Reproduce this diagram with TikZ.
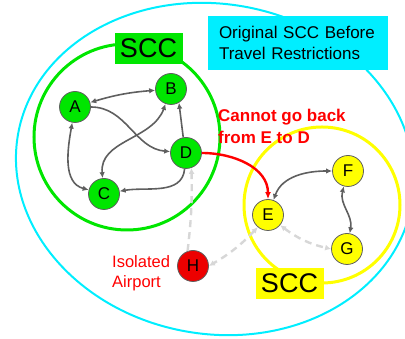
\documentclass[tikz,border=0pt]{standalone}
\usepackage{fontspec}
\setmainfont{Liberation Sans}
\usetikzlibrary{arrows.meta}
\definecolor{sccgreen}{RGB}{0,230,0}
\definecolor{sccyellow}{RGB}{255,255,0}
\definecolor{origcyan}{RGB}{0,238,255}
\definecolor{edgegray}{RGB}{95,95,95}
\definecolor{lostgray}{RGB}{215,215,215}
\definecolor{cutred}{RGB}{255,0,0}
\tikzset{
	airport/.style={circle, draw=edgegray, line width=0.8pt, minimum size=31pt, inner sep=0pt, font=\fontsize{17}{17}\selectfont},
	route/.style={draw=edgegray, line width=1.6pt, {Latex[length=6pt,width=5.5pt]}-{Latex[length=6pt,width=5.5pt]}},
	oneway/.style={draw=edgegray, line width=1.6pt, -{Latex[length=6pt,width=5.5pt]}},
	lost/.style={draw=lostgray, line width=2.4pt, dash pattern=on 7pt off 5pt},
	scclabel/.style={inner sep=0pt, minimum width=68pt, minimum height=31pt, font=\fontsize{27}{27}\selectfont},
	rednote/.style={text=cutred, align=left, anchor=west, inner sep=0pt},
}
\begin{document}
\begin{tikzpicture}[x=1pt, y=1pt]
	%%%%% START %%%%%
	\useasboundingbox (0,0) rectangle (405,339);
	
	\draw[origcyan, line width=2pt, rotate around={-10:(215,170)}] (215,170) ellipse (200 and 165);
	\node[fill=origcyan, inner xsep=11pt, text width=158pt, minimum height=54pt, align=left, font=\fontsize{17}{21}\selectfont] (title) at (298,296) {Original SCC Before\\Travel Restrictions};
	
	\draw[sccgreen, line width=3pt] (127,202) circle (93);
	\node[scclabel, fill=sccgreen] (greenscc) at (148.5,290.5) {SCC};
	
	\draw[sccyellow, line width=3pt] (322,134) circle (78);
	\node[scclabel, fill=sccyellow] (yellowscc) at (289.5,55.5) {SCC};
	
	\node[airport, fill=sccgreen] (A) at (75,232) {A};
	\node[airport, fill=sccgreen] (B) at (171,250) {B};
	\node[airport, fill=sccgreen] (C) at (104,145) {C};
	\node[airport, fill=sccgreen] (D) at (186,186) {D};
	
	\node[airport, fill=sccyellow] (E) at (268,124) {E};
	\node[airport, fill=sccyellow] (F) at (348,168) {F};
	\node[airport, fill=sccyellow] (G) at (347,90) {G};
	
	\node[airport, fill=cutred!93!black] (H) at (193,73) {H};
	
	% routes inside the green SCC
	\draw[route] (A) to[bend left=6] (B);
	\draw[route] (A) to[out=260, in=165] (C);
	\draw[oneway] (A) to[out=0, in=175] (D);
	\draw[route] (B) to[out=250, in=95] (C);
	\draw[oneway] (D.100) -- (B.-60);
	\draw[oneway] (D) to[out=-95, in=10] (C);
	
	% routes inside the yellow SCC
	\draw[route] (E) to[out=70, in=180] (F);
	\draw[route] (F) to[out=-105, in=80] (G);
	
	\draw[cutred, line width=2.4pt, -{Latex[length=7pt,width=6pt]}] (D) to[out=0, in=90] (E);
	
	% removed routes
	\draw[lost, -{Latex[length=6pt,width=6pt]}] (H.110) to[bend right=4] (D.-70);
	\draw[lost, {Latex[length=6pt,width=6pt]}-{Latex[length=6pt,width=6pt]}] (E.-130) to[bend left=8] (H.0);
	\draw[lost, {Latex[length=6pt,width=6pt]}-{Latex[length=6pt,width=6pt]}] (E.-40) to[bend right=12] (G.180);
	
	\node[rednote, font=\bfseries\fontsize{17}{22}\selectfont] (cutnote) at (218,213) {Cannot go back\\from E to D};
	\node[rednote, font=\fontsize{16.5}{20}\selectfont] (isonote) at (112,66) {Isolated\\Airport};
	
	%%%%% END %%%%%
\end{tikzpicture}
\end{document}
